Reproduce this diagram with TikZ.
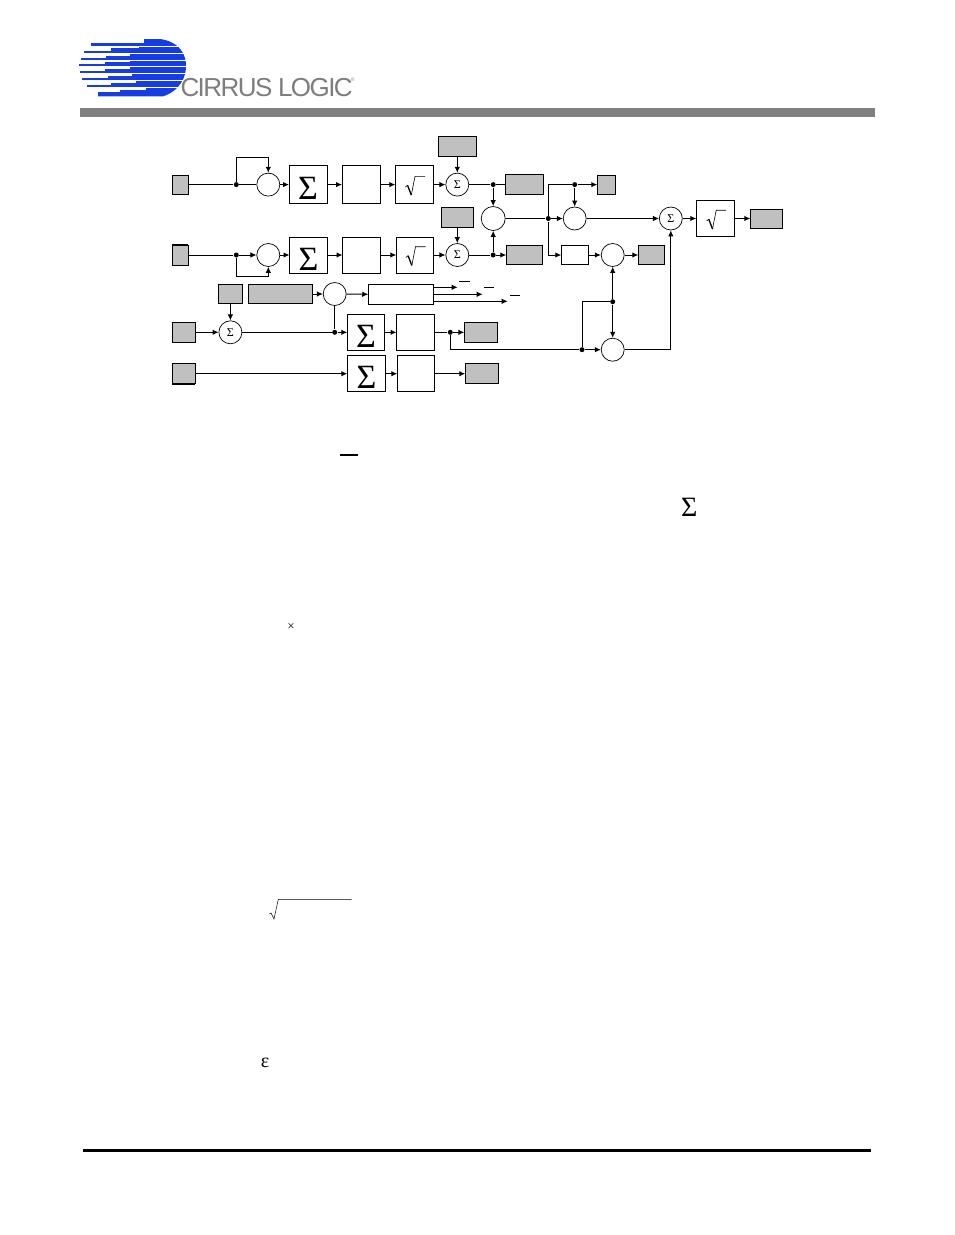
\documentclass[tikz,border=0pt]{standalone}
\usepackage{fontspec}
\usepackage{tikz}
\usetikzlibrary{arrows.meta}
\newfontfamily\symfont{Liberation Serif}
\newfontfamily\brandfont[LetterSpace=-6]{Liberation Sans}
\definecolor{logoblue}{RGB}{22,60,228}
\definecolor{brandgrey}{RGB}{125,125,125}
\definecolor{boxgrey}{RGB}{192,192,192}
\definecolor{bargrey}{RGB}{128,128,128}
\newcommand{\sigmaglyph}{\raisebox{-15pt}[11pt][11pt]{\symbol{"03A3}}}
\tikzstyle{dot}=[circle, fill, inner sep=0pt, minimum size=5pt]
\tikzstyle{mixer}=[circle, draw, line width=0.7pt, inner sep=0pt, minimum size=23pt, fill=white]
\tikzstyle{sumnode}=[mixer, font=\symfont\fontsize{12}{12}\selectfont]
\tikzstyle{block}=[rectangle, draw, line width=1pt, inner sep=0pt, outer sep=0pt, minimum width=38pt, minimum height=37.5pt, fill=white]
\tikzstyle{sigmablock}=[block, font=\symfont\fontsize{34}{34}\selectfont]
\tikzstyle{tag}=[block, fill=boxgrey, minimum height=20pt]
\tikzset{rootsign/.pic={
	\draw [line width=0.6pt] (-9, 2.5) -- (-6.7, 0.7);
	\draw [line width=1.3pt] (-6.7, 0.7) -- (-3, 10.5);
	\draw [line width=0.6pt] (-3, 10.5) -- (0.7, -8.3) -- (10.7, -8.3);
}}

\begin{document}
\begin{tikzpicture}[x=1pt, y=-1pt, line width=1pt, >={Latex[length=6pt, width=5.5pt]}]
	\useasboundingbox (0, 0) rectangle (954, 1235);
	% header
	\begin{scope}
		\clip (70, 96.3) -- (70, 39) -- (150, 39) .. controls (165, 37) and (186, 44) .. (186, 66) .. controls (186, 84) and (172, 94) .. (163, 96.3) -- cycle;
		\fill [logoblue] (144, 39) rectangle (190, 43);
		\fill [logoblue] (91, 43) rectangle (190, 45.5);
		\fill [logoblue] (139, 46.5) rectangle (190, 48);
		\fill [logoblue] (111, 48) rectangle (190, 51);
		\fill [logoblue] (84, 51) rectangle (190, 52.8);
		\fill [logoblue] (130, 53.8) rectangle (190, 55.5);
		\fill [logoblue] (106, 55.5) rectangle (190, 57.5);
		\fill [logoblue] (81, 57.5) rectangle (190, 59.5);
		\fill [logoblue] (130, 60.5) rectangle (190, 62);
		\fill [logoblue] (105, 62) rectangle (190, 64);
		\fill [logoblue] (79, 64) rectangle (190, 66.2);
		\fill [logoblue] (130, 67.2) rectangle (190, 69);
		\fill [logoblue] (105, 69) rectangle (190, 71);
		\fill [logoblue] (80, 71) rectangle (190, 72.8);
		\fill [logoblue] (132, 73.8) rectangle (190, 75.5);
		\fill [logoblue] (108, 75.5) rectangle (190, 77.5);
		\fill [logoblue] (82, 77.5) rectangle (190, 79.5);
		\fill [logoblue] (136, 80.5) rectangle (190, 82.5);
		\fill [logoblue] (111, 82.5) rectangle (190, 84.5);
		\fill [logoblue] (87, 84.5) rectangle (190, 86.5);
		\fill [logoblue] (146, 87.5) rectangle (190, 89.5);
		\fill [logoblue] (120, 89.5) rectangle (190, 92);
		\fill [logoblue] (98, 92) rectangle (190, 97);
	\end{scope}
	\node (brandname) at (180, 87.5) [anchor=west, inner sep=0pt, text=brandgrey, font=\brandfont\fontsize{26}{26}\selectfont] {CIRRUS LOGIC};
	\node (brandmark) at (352.5, 79.5) [inner sep=0pt, text=brandgrey, font=\fontsize{5}{5}\selectfont] {®};
	\fill [bargrey] (80, 108) rectangle (875, 117);
	% first two rows
	\begin{scope}
		\node (inA) at (180.4, 184.6) [tag, minimum width=16pt, minimum height=19pt] {};
		\node (dotA) at (236.3, 184.6) [dot] {};
		\coordinate (loopA) at (268.3, 157.3);
		\node (mixA) at (268.3, 184.6) [mixer] {};
		\node (sigmaA) at (308, 184.6) [sigmablock] {\sigmaglyph};
		\node (blockA) at (361, 184.6) [block] {};
		\node (rootA) at (414.3, 184.6) [block] {};
		\pic at (rootA) {rootsign};
		\node (offsetA) at (457.3, 146.3) [tag] {};
		\node (sumA) at (457.3, 184.6) [sumnode] {\symbol{"03A3}};
		\node (dotB) at (493.2, 184.6) [dot] {};
		\node (tagA) at (524, 184.6) [tag] {};
		\node (inB) at (180.4, 255) [tag, minimum width=16pt] {};
		\draw [line width=2pt] (inB.north west) -- (inB.north east);
		\node (dotC) at (236.3, 255) [dot] {};
		\coordinate (loopB) at (268.3, 276.7);
		\node (mixB) at (268.3, 255) [mixer] {};
		\node (sigmaB) at (308.5, 255) [sigmablock, minimum height=36pt] {\sigmaglyph};
		\node (blockB) at (361.5, 255) [block, minimum height=36pt] {};
		\node (rootB) at (414.8, 255) [block, minimum width=37pt, minimum height=36pt] {};
		\pic at (rootB) {rootsign};
		\node (offsetB) at (457.3, 217.3) [tag, minimum width=32pt] {};
		\node (sumB) at (457.3, 255) [sumnode] {\symbol{"03A3}};
		\node (dotD) at (493.2, 255) [dot] {};
		\node (tagB) at (524.5, 255) [tag, minimum width=36.5pt, minimum height=19pt] {};
		\node (mixC) at (493.2, 218.5) [mixer, minimum height=24pt] {};
	\end{scope}
	% right part
	\begin{scope}
		\node (dotE) at (548.3, 218.5) [dot] {};
		\coordinate (cornerA) at (548.3, 184.6);
		\node (dotF) at (574.7, 184.6) [dot] {};
		\node (tagC) at (606.5, 184.6) [tag, minimum width=18.5pt, minimum height=19pt] {};
		\node (mixD) at (574.7, 218.5) [mixer] {};
		\node (sumC) at (670.8, 218.5) [sumnode] {\symbol{"03A3}};
		\node (rootC) at (715.5, 218.5) [block, minimum width=38.5pt, minimum height=36pt] {};
		\pic at (rootC) {rootsign};
		\node (tagD) at (766.5, 218.5) [tag, minimum width=32.5pt, minimum height=19pt] {};
		\node (blockC) at (575, 255) [block, minimum width=27.5pt, minimum height=19pt] {};
		\node (mixE) at (612.7, 255) [mixer] {};
		\node (tagE) at (651.5, 255) [tag, minimum width=26.5pt, minimum height=19pt] {};
		\node (dotG) at (612.7, 301.7) [dot] {};
		\node (mixF) at (612.7, 349.7) [mixer] {};
		\node (dotH) at (582, 349.7) [dot] {};
	\end{scope}
	% lower rows
	\begin{scope}
		\node (tagF) at (230.4, 294) [tag, minimum width=24.5pt, minimum height=19pt] {};
		\node (tagG) at (280.5, 294) [tag, minimum width=64.5pt, minimum height=19pt] {};
		\node (mixG) at (334.7, 294) [mixer] {};
		\node (blockD) at (401, 294.5) [block, minimum width=65.5pt, minimum height=20pt] {};
		\coordinate (outA) at (457.7, 287.3);
		\coordinate (outB) at (482.7, 294.3);
		\coordinate (outC) at (507.7, 301.3);
		\node (inC) at (183.8, 332.3) [tag, minimum width=23pt] {};
		\node (sumD) at (230.4, 332.3) [sumnode] {\symbol{"03A3}};
		\node (dotI) at (334.7, 332.3) [dot] {};
		\node (sigmaC) at (366, 332.3) [sigmablock, minimum width=37.5pt, minimum height=36.5pt] {\sigmaglyph};
		\node (blockE) at (415.5, 332.3) [block, minimum height=36.5pt] {};
		\node (dotJ) at (450.3, 332.3) [dot] {};
		\node (tagH) at (481, 332.3) [tag, minimum width=33.5pt] {};
		\node (inD) at (183.8, 373.7) [tag, minimum width=23pt] {};
		\draw [line width=2pt] (inD.south west) -- (inD.south east);
		\node (sigmaD) at (366.5, 373.7) [sigmablock, minimum width=38.5pt, minimum height=36pt] {\sigmaglyph};
		\node (blockF) at (416, 373.7) [block, minimum width=37.5pt, minimum height=36pt] {};
		\node (tagI) at (482, 373.7) [tag, minimum width=33.5pt] {};
	\end{scope}
	% connectors
	\begin{scope}
		\path [-] (inA) edge (dotA);
		\path [-] (dotA) edge (mixA);
		\draw [->] (dotA) |- (loopA) -- (mixA);
		\path [->] (mixA) edge (sigmaA);
		\path [->] (sigmaA) edge (blockA);
		\path [->] (blockA) edge (rootA);
		\path [->] (rootA) edge (sumA);
		\path [->] (offsetA) edge (sumA);
		\path [-] (sumA) edge (dotB);
		\path [-] (dotB) edge (tagA);
		\path [->] (dotB) edge (mixC);
		\path [-] (inB) edge (dotC);
		\path [->] (dotC) edge (mixB);
		\draw [->] (dotC) |- (loopB) -- (mixB);
		\path [->] (mixB) edge (sigmaB);
		\path [->] (sigmaB) edge (blockB);
		\path [->] (blockB) edge (rootB);
		\path [->] (rootB) edge (sumB);
		\path [->] (offsetB) edge (sumB);
		\path [-] (sumB) edge (dotD);
		\path [->] (dotD) edge (tagB);
		\path [->] (dotD) edge (mixC);
		\path [-] (mixC) edge (dotE);
		\path [->] (dotE) edge (mixD);
		\draw (dotE) -- (cornerA) -- (dotF);
		\path [->] (dotF) edge (tagC);
		\path [->] (dotF) edge (mixD);
		\path [->] (mixD) edge (sumC);
		\path [->] (sumC) edge (rootC);
		\path [->] (rootC) edge (tagD);
		\draw [->] (dotE) |- (blockC);
		\path [->] (blockC) edge (mixE);
		\path [->] (mixE) edge (tagE);
		\path [->] (dotG) edge (mixE);
		\path [->] (dotG) edge (mixF);
		\draw (dotH) |- (dotG);
		\path [->] (dotH) edge (mixF);
		\draw [->] (mixF) -| (sumC);
		\path [->] (tagF) edge (sumD);
		\path [->] (tagG) edge (mixG);
		\path [->] (mixG) edge (blockD);
		\draw [->] (outA -| blockD.east) -- (outA);
		\draw [->] (outB -| blockD.east) -- (outB);
		\draw [->] (outC -| blockD.east) -- (outC);
		\path [->] (inC) edge (sumD);
		\path [-] (sumD) edge (dotI);
		\path [-] (mixG) edge (dotI);
		\path [->] (dotI) edge (sigmaC);
		\path [->] (sigmaC) edge (blockE);
		\path [-] (blockE) edge (dotJ);
		\path [->] (dotJ) edge (tagH);
		\draw (dotJ) |- (dotH);
		\path [->] (inD) edge (sigmaD);
		\path [->] (sigmaD) edge (blockF);
		\path [->] (blockF) edge (tagI);
	\end{scope}
	% bars over the outputs
	\draw (459.3, 281) -- (470, 281);
	\draw (484, 287.7) -- (494.3, 287.7);
	\draw (510, 295) -- (520, 295);
	% what is left of the page
	\draw [line width=2pt] (340, 455) -- (358, 455);
	\node (sigmaE) at (689.3, 507) [inner sep=0pt, font=\symfont\fontsize{28}{28}\selectfont] {\symbol{"03A3}};
	\node (times) at (291, 627.3) [inner sep=0pt, font=\symfont\fontsize{13}{13}\selectfont] {×};
	\draw [line width=0.5pt] (269.3, 914) -- (271, 913) -- (274, 919) -- (278.3, 899.3) -- (351.7, 899.3);
	\node (epsilon) at (265, 1063) [inner sep=0pt, font=\symfont\fontsize{20}{20}\selectfont] {\symbol{"03B5}};
	\fill (83, 1149) rectangle (871, 1152);
\end{tikzpicture}
\end{document}
